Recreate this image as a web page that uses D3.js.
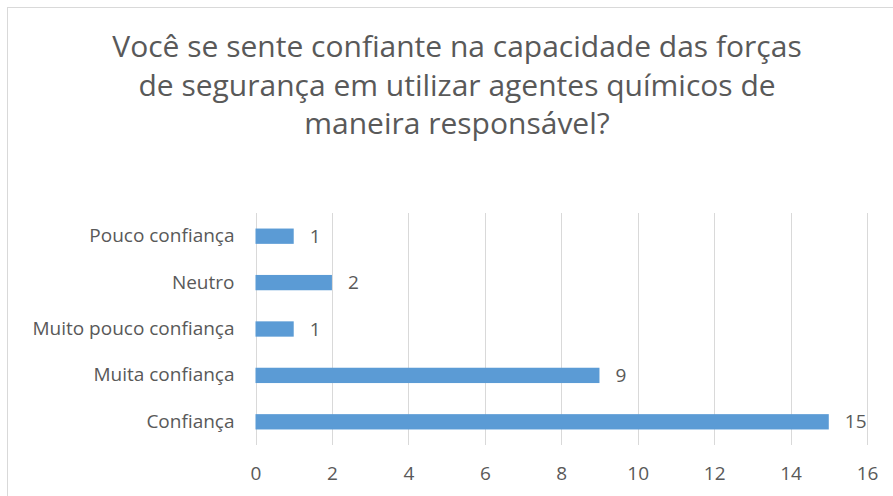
<!DOCTYPE html>
<html>
<head>
<meta charset="utf-8">
<script src="https://cdn.jsdelivr.net/npm/d3@7"></script>
<style>
  body { margin: 0; background: #fff; }
  text { font-family: "Open Sans", "Noto Sans", sans-serif; fill: #595959; }
</style>
</head>
<body>
<div id="chart"></div>
<script>
// dados do gráfico
const categories = ['Pouco confiança', 'Neutro', 'Muito pouco confiança', 'Muita confiança', 'Confiança']
const values = [1, 2, 1, 9, 15]
const ticks = [0, 2, 4, 6, 8, 10, 12, 14, 16]
const titleLines = [
    'Você se sente confiante na capacidade das forças',
    'de segurança em utilizar agentes químicos de',
    'maneira responsável?'
]

const W = 893, H = 496

let svg = d3.select('#chart')
    .append('svg')
    .attr('width', W)
    .attr('height', H)

// moldura do gráfico
svg.append('rect')
    .attr('x', 7.5)
    .attr('y', 7.5)
    .attr('width', 900)
    .attr('height', 500)
    .style('fill', 'none')
    .style('stroke', '#d9d9d9')

// título
svg.append('g')
    .selectAll('text')
    .data(titleLines)
    .join('text')
    .attr('x', 457)
    .attr('y', (d, i) => 57 + i * 38.5)
    .attr('text-anchor', 'middle')
    .style('font-size', '30px')
    .text(d => d)

const x = d3.scaleLinear().domain([0, 16]).range([255.5, 867])
const y = d3.scaleBand().domain(categories).range([213, 445]).paddingInner(0.67).paddingOuter(0.335)

// linhas de grade
svg.append('g')
    .selectAll('line')
    .data(ticks)
    .join('line')
    .attr('x1', d => Math.round(x(d)) + 0.5)
    .attr('x2', d => Math.round(x(d)) + 0.5)
    .attr('y1', 213)
    .attr('y2', 445)
    .style('stroke', '#d9d9d9')

// eixo x
let xAxis = svg.append('g')
    .attr('transform', 'translate(0,445)')
    .call(d3.axisBottom(x).tickValues(ticks).tickSize(0).tickPadding(22))
xAxis.select('.domain').remove()
xAxis.selectAll('text').style('font-size', '19px').style('fill', '#595959')

// eixo y
let yAxis = svg.append('g')
    .attr('transform', 'translate(255.5,0)')
    .call(d3.axisLeft(y).tickSize(0).tickPadding(21))
yAxis.select('.domain').remove()
yAxis.selectAll('text').style('font-size', '19px').style('fill', '#595959')

// barras
svg.append('g')
    .selectAll('rect')
    .data(values)
    .join('rect')
    .attr('x', x(0))
    .attr('y', (d, i) => y(categories[i]))
    .attr('width', d => x(d) - x(0))
    .attr('height', y.bandwidth())
    .style('fill', '#5b9bd5')

// rótulos de valor
svg.append('g')
    .selectAll('text')
    .data(values)
    .join('text')
    .attr('x', d => x(d) + 16)
    .attr('y', (d, i) => y(categories[i]) + y.bandwidth() / 2)
    .attr('dy', '0.35em')
    .style('font-size', '19px')
    .text(d => d)
</script>
</body>
</html>
